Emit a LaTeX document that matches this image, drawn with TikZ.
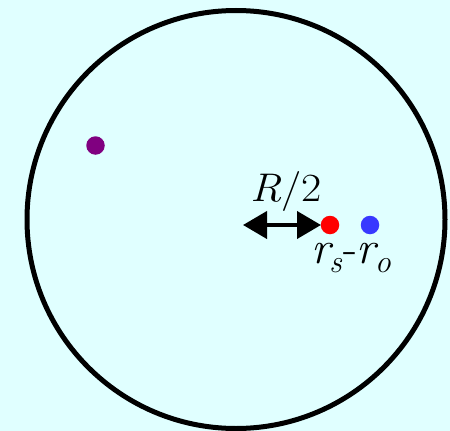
\documentclass[tikz,border=0pt]{standalone}
\usepackage{fontspec}
\usetikzlibrary{arrows.meta}
\definecolor{bgc}{HTML}{E0FFFF}
\definecolor{dotred}{HTML}{FF0000}
\definecolor{dotblue}{HTML}{3838FF}
\definecolor{dotpurple}{HTML}{800080}
\tikzset{
  dot/.style={circle,inner sep=0pt,minimum size=18.5pt,draw=none},
  lab/.style={inner sep=0pt},
  dblarrow/.style={line width=4pt,{Triangle[length=24pt,width=27pt]}-{Triangle[length=24pt,width=27pt]}}
}
\newcommand{\subit}[1]{\raisebox{-0.2em}{\fontsize{32}{34}\selectfont\itshape #1}}
\begin{document}
\begin{tikzpicture}[x=1pt,y=-1pt]
\fill[bgc] (0,0) rectangle (450,431);
\useasboundingbox (0,0) rectangle (450,431);
\node[circle,draw=black,line width=5pt,minimum size=418pt,inner sep=0pt] (ball) at (236,219.5) {};
\node[dot,fill=dotpurple] (p) at (95.5,145.5) {};
\node[dot,fill=dotred] (s) at (330,225) {};
\node[dot,fill=dotblue] (o) at (370,225) {};
\coordinate (a1) at (243,225);
\coordinate (a2) at (321,225);
\draw[dblarrow] (a1) -- (a2);
\node[lab,anchor=base west] (rl) at (250,201.7) {\scalebox{1.1}[1]{\fontsize{40}{42}\selectfont{\itshape R}/2}};
\node[lab,anchor=base west] (rsro) at (311,263.3) {\fontsize{46}{48}\selectfont{\itshape r}\kern-1pt\subit{s}\kern1pt-{\itshape r}\kern-1pt\subit{o}};
\end{tikzpicture}
\end{document}
